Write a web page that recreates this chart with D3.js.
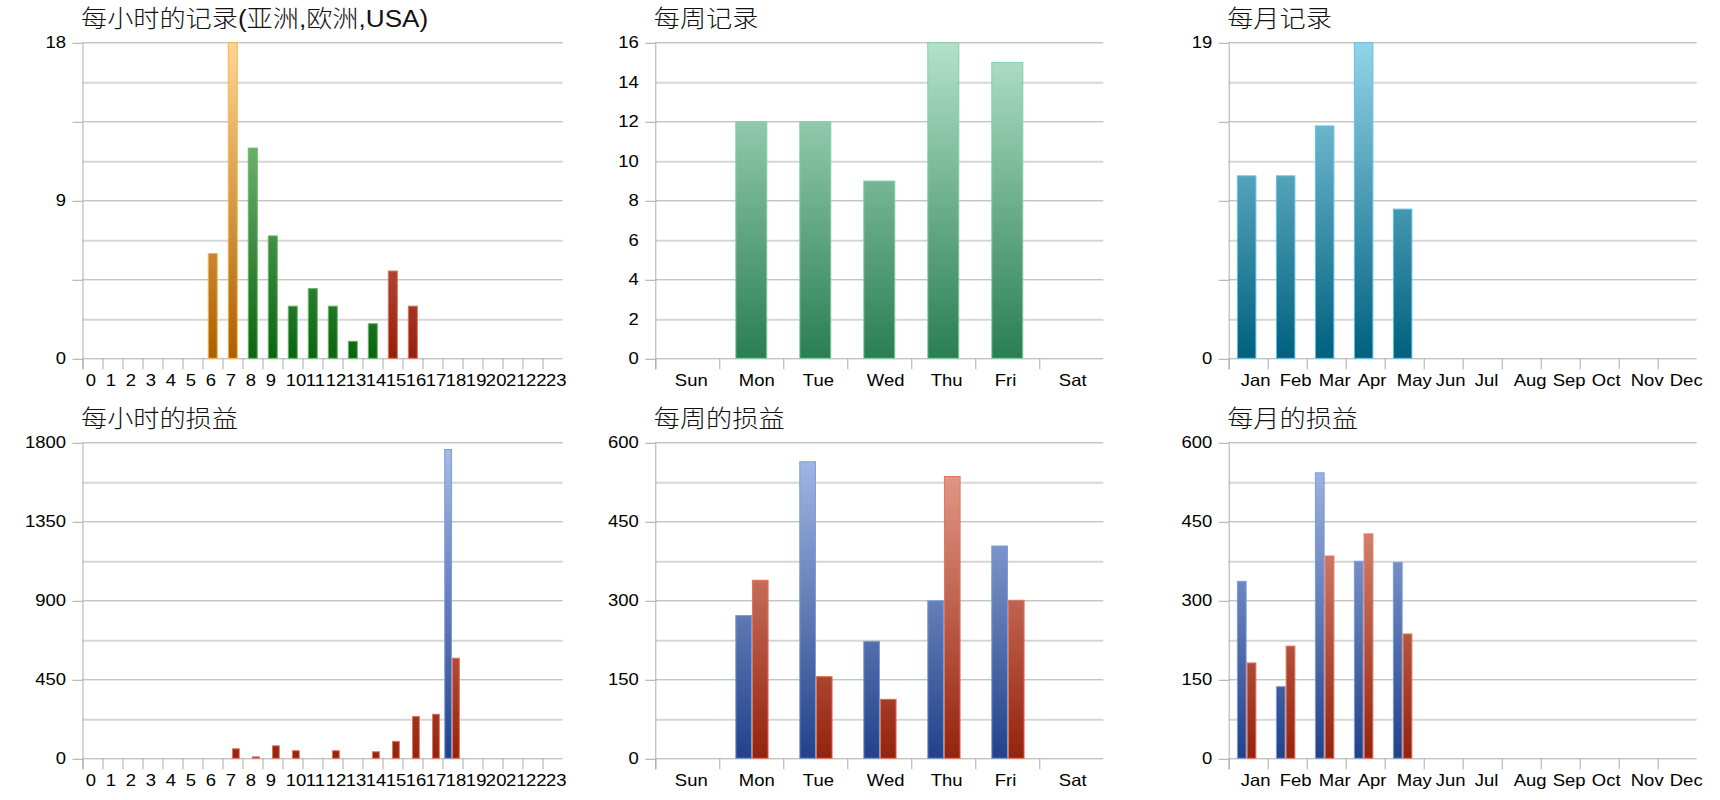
<!DOCTYPE html>
<html>
<head>
<meta charset="utf-8">
<script src="https://cdn.jsdelivr.net/npm/d3@7"></script>
<style>
  body { margin: 0; background: #fff; }
  text { font-family: 'Liberation Sans', Arial, 'Noto Sans CJK SC', sans-serif; }
</style>
</head>
<body>
<script>
// categories
const hourLabels = ['0','1','2','3','4','5','6','7','8','9','10','11','12','13','14','15','16','17','18','19','20','21','22','23'];
const weekdays = ['Sun', 'Mon', 'Tue', 'Wed', 'Thu', 'Fri', 'Sat'];
const months = ['Jan', 'Feb', 'Mar', 'Apr', 'May', 'Jun', 'Jul', 'Aug', 'Sep', 'Oct', 'Nov', 'Dec'];

// region of each hour (亚洲 / 欧洲 / USA)
const hourRegion = ['asia','asia','asia','asia','asia','asia','asia','asia',
  'europe','europe','europe','europe','europe','europe','europe',
  'usa','usa','usa','usa','usa','usa','usa','usa','usa'];

// series values
const hourRecords = [0, 0, 0, 0, 0, 0, 6, 18, 12, 7, 3, 4, 3, 1, 2, 5, 3, 0, 0, 0, 0, 0, 0, 0];
const hourProfit = [0, 0, 0, 0, 0, 0, 0, 0, 0, 0, 0, 0, 0, 0, 0, 0, 0, 0, 1762, 0, 0, 0, 0, 0];
const hourLoss = [0, 0, 0, 0, 0, 0, 0, 57, 11, 74, 46, 0, 46, 0, 40, 99, 241, 254, 573, 0, 0, 0, 0, 0];

const weekRecords = [0, 12, 12, 9, 16, 15, 0];
const weekProfit = [0, 272, 564, 223, 300, 404, 0];
const weekLoss = [0, 339, 156, 113, 536, 301, 0];

const monthRecords = [11, 11, 14, 19, 9, 0, 0, 0, 0, 0, 0, 0];
const monthProfit = [337, 137, 543, 375, 373, 0, 0, 0, 0, 0, 0, 0];
const monthLoss = [182, 214, 385, 427, 237, 0, 0, 0, 0, 0, 0, 0];

// y tick labels
const hourRecordTicks = [0, 9, 18];
const hourPnlTicks = [0, 450, 900, 1350, 1800];
const weekRecordTicks = [0, 2, 4, 6, 8, 10, 12, 14, 16];
const weekPnlTicks = [0, 150, 300, 450, 600];
const monthRecordTicks = [0, 19];
const monthPnlTicks = [0, 150, 300, 450, 600];

const palette = {
  asia: { top: '#ffd594', bottom: '#aa6000', stroke: '#ffb446' },
  europe: { top: '#9dd49b', bottom: '#0a6410', stroke: '#66ba66' },
  usa: { top: '#e9a898', bottom: '#94200c', stroke: '#e46f58' },
  profit: { top: '#a9bde8', bottom: '#22418a', stroke: '#7a9bdc' },
  loss: { top: '#e9a594', bottom: '#94230c', stroke: '#e5735b' },
  week: { top: '#b2e2cb', bottom: '#2a7e53', stroke: '#7fd1a9' },
  month: { top: '#93d4e8', bottom: '#00607e', stroke: '#5fc2e2' },
};

// the original picture is stretched horizontally, text included
const stretch = 1.12;
const titleStretch = 1.09;
const cols = [[82.5, 562.7], [655.3, 1103.3], [1228.7, 1696.7]];
const rows = [42.3, 442.3];
const h = 316;

const panels = [
  { title: '每小时的记录(亚洲,欧洲,USA)', col: 0, row: 0, cats: hourLabels, max: 18, labels: hourRecordTicks,
    series: [{ values: hourRecords, color: (i) => hourRegion[i] }], start: 0.26, width: 0.5, labelOffset: 0.16 },
  { title: '每小时的损益', col: 0, row: 1, cats: hourLabels, max: 1800, labels: hourPnlTicks,
    series: [{ values: hourProfit, color: () => 'profit' }, { values: hourLoss, color: () => 'loss' }],
    start: 0.08, width: 0.78, labelOffset: 0.16 },
  { title: '每周记录', col: 1, row: 0, cats: weekdays, max: 16, labels: weekRecordTicks,
    series: [{ values: weekRecords, color: () => 'week' }], start: 0.25, width: 0.5, labelOffset: 0.305 },
  { title: '每周的损益', col: 1, row: 1, cats: weekdays, max: 600, labels: weekPnlTicks,
    series: [{ values: weekProfit, color: () => 'profit' }, { values: weekLoss, color: () => 'loss' }],
    start: 0.25, width: 0.52, labelOffset: 0.305 },
  { title: '每月记录', col: 2, row: 0, cats: months, max: 19, labels: monthRecordTicks,
    series: [{ values: monthRecords, color: () => 'month' }], start: 0.21, width: 0.5, labelOffset: 0.31 },
  { title: '每月的损益', col: 2, row: 1, cats: months, max: 600, labels: monthPnlTicks,
    series: [{ values: monthProfit, color: () => 'profit' }, { values: monthLoss, color: () => 'loss' }],
    start: 0.21, width: 0.5, labelOffset: 0.31 },
];

let svg = d3.select('body').append('svg').attr('width', 1720).attr('height', 800);

// gradients in the panel's own coordinates (all panels share the same height)
let defs = svg.append('defs');
Object.entries(palette).forEach(([key, c]) => {
  let g = defs.append('linearGradient')
    .attr('id', 'grad-' + key)
    .attr('gradientUnits', 'userSpaceOnUse')
    .attr('x1', 0).attr('x2', 0).attr('y1', 0).attr('y2', h);
  g.append('stop').attr('offset', 0).attr('stop-color', c.top);
  g.append('stop').attr('offset', 1).attr('stop-color', c.bottom);
});

let place = (x, y, s = stretch) => `translate(${x},${y}) scale(${s},1)`;

panels.forEach((p) => {
  let left = cols[p.col][0];
  let w = cols[p.col][1] - left;
  let g = svg.append('g').attr('transform', `translate(${left},${rows[p.row]})`);

  let x = d3.scaleBand().domain(p.cats).range([0, w]);
  let y = d3.scaleLinear().domain([0, p.max]).range([h, 0]);
  let bw = x.bandwidth();

  // grid: 8 intervals, every other one darker
  let grid = d3.range(9).map((i) => (i * p.max) / 8);
  g.selectAll('.grid')
    .data(grid)
    .enter()
    .append('line')
    .attr('x1', 0)
    .attr('x2', w)
    .attr('y1', (d) => Math.round(y(d)) + 0.5)
    .attr('y2', (d) => Math.round(y(d)) + 0.5)
    .attr('stroke', (d, i) => (i % 2 ? '#d6d6d6' : '#ababab'))
    .attr('stroke-width', (d, i) => (i % 2 ? 2 : 1));

  // major ticks on the left
  let major = grid.filter((d, i) => i % 2 == 0);
  g.append('g')
    .call(d3.axisLeft(y).tickValues(major).tickSize(10).tickFormat(''))
    .call((a) => a.select('.domain').remove())
    .call((a) => a.selectAll('line').attr('stroke', '#ababab').attr('transform', 'translate(0,0.5)'));

  // left axis line
  g.append('line')
    .attr('x1', 0.5).attr('x2', 0.5)
    .attr('y1', 0).attr('y2', h + 11)
    .attr('stroke', '#ababab');

  // y labels
  g.append('g')
    .call(d3.axisLeft(y).tickValues(p.labels).tickSize(0).tickFormat(d3.format('d')))
    .call((a) => a.select('.domain').remove())
    .call((a) => a.selectAll('text')
      .attr('x', 0)
      .attr('transform', place(-16.5, 0))
      .attr('font-size', 16.5)
      .attr('fill', '#000')
      .attr('font-family', "'Liberation Sans', Arial, sans-serif"));

  // x ticks at band edges
  g.selectAll('.xtick')
    .data(p.cats)
    .enter()
    .append('line')
    .attr('x1', (d) => Math.round(x(d)) + 0.5)
    .attr('x2', (d) => Math.round(x(d)) + 0.5)
    .attr('y1', h)
    .attr('y2', h + 11)
    .attr('stroke', '#ababab');

  // x labels
  g.selectAll('.xlabel')
    .data(p.cats)
    .enter()
    .append('text')
    .attr('transform', (d) => place(x(d) + bw * p.labelOffset, h + 27.7))
    .attr('font-size', 16.5)
    .attr('fill', '#000')
    .text((d) => d);

  // bars
  let inner = d3.scaleBand()
    .domain(d3.range(p.series.length))
    .range([bw * p.start, bw * (p.start + p.width)]);
  p.series.forEach((s, si) => {
    let items = s.values.map((v, i) => ({ v: v, i: i, c: s.color(i) })).filter((d) => d.v > 0);
    g.selectAll('.bar' + si)
      .data(items)
      .enter()
      .append('rect')
      .attr('x', (d) => x(p.cats[d.i]) + inner(si) + 0.5)
      .attr('y', (d) => y(d.v) + 0.5)
      .attr('width', inner.bandwidth() - 1)
      .attr('height', (d) => h - y(d.v) - 0.5)
      .attr('fill', (d) => `url(#grad-${d.c})`)
      .attr('stroke', (d) => palette[d.c].stroke)
      .attr('stroke-width', 1);
  });

  // title
  svg.append('text')
    .attr('transform', place(left - 1.5, rows[p.row] - 15, titleStretch))
    .attr('font-size', 24)
    .attr('font-weight', 300)
    .attr('fill', '#111')
    .attr('font-family', "'Liberation Sans', 'Noto Sans CJK SC', sans-serif")
    .text(p.title);
});
</script>
</body>
</html>
